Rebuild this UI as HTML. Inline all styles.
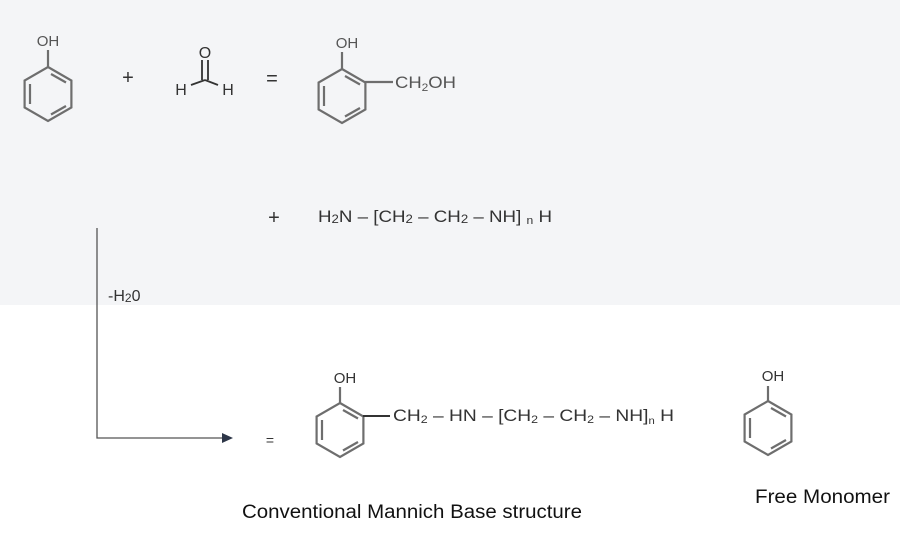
<!DOCTYPE html>
<html><head><meta charset="utf-8"><style>
body{margin:0;width:900px;height:550px;overflow:hidden;background:#fff}
svg{display:block}
text{font-family:"Liberation Sans",sans-serif}
</style></head><body>
<svg width="900" height="550" viewBox="0 0 900 550" xmlns="http://www.w3.org/2000/svg">
<rect x="0" y="0" width="900" height="305" fill="#f4f5f7"/>
<defs>
<g id="ring" fill="none" stroke="#6e6e6e" stroke-width="2.2">
<polygon points="0,-27 23.4,-13.5 23.4,13.5 0,27 -23.4,13.5 -23.4,-13.5"/>
<line x1="3" y1="-20" x2="18" y2="-11.5"/>
<line x1="18" y1="12" x2="3" y2="20.5"/>
<line x1="-18" y1="-10" x2="-18" y2="10"/>
</g>
</defs>
<use href="#ring" x="48" y="94"/>
<line x1="48" y1="67" x2="48" y2="50" stroke="#6e6e6e" stroke-width="2.2"/>
<text x="48" y="46" font-size="15" text-anchor="middle" fill="#555">OH</text>
<text x="128" y="84" font-size="20" text-anchor="middle" fill="#333">+</text>
<text x="205" y="58" font-size="16" text-anchor="middle" fill="#333">O</text>
<line x1="202" y1="60" x2="202" y2="80" stroke="#333" stroke-width="1.8"/>
<line x1="208" y1="60" x2="208" y2="80" stroke="#333" stroke-width="1.8"/>
<line x1="191" y1="85" x2="205" y2="80" stroke="#333" stroke-width="1.8"/>
<line x1="205" y1="80" x2="218" y2="85" stroke="#333" stroke-width="1.8"/>
<text x="181" y="95" font-size="16" text-anchor="middle" fill="#333">H</text>
<text x="228" y="95" font-size="16" text-anchor="middle" fill="#333">H</text>
<text x="272" y="85" font-size="20" text-anchor="middle" fill="#333">=</text>
<use href="#ring" x="342" y="96"/>
<line x1="342" y1="69" x2="342" y2="52" stroke="#6e6e6e" stroke-width="2.2"/>
<line x1="365" y1="82" x2="393" y2="82" stroke="#6e6e6e" stroke-width="2.2"/>
<text x="347" y="48" font-size="15" text-anchor="middle" fill="#555">OH</text>
<text x="395" y="88" font-size="17" fill="#555" textLength="61" lengthAdjust="spacingAndGlyphs">CH<tspan font-size="11" dy="3">2</tspan><tspan dy="-3">OH</tspan></text>
<text x="274" y="224" font-size="20" text-anchor="middle" fill="#333">+</text>
<text x="318" y="222" font-size="17" fill="#333" textLength="234" lengthAdjust="spacingAndGlyphs">H<tspan font-size="12" dy="1">2</tspan><tspan dy="-1">N – [CH</tspan><tspan font-size="12" dy="1">2</tspan><tspan dy="-1"> – CH</tspan><tspan font-size="12" dy="1">2</tspan><tspan dy="-1"> – NH] </tspan><tspan font-size="11" dy="2">n</tspan><tspan dy="-2"> H</tspan></text>
<polyline points="97,228 97,438 224,438" fill="none" stroke="#555" stroke-width="1.3"/>
<polygon points="233,438 222,433 222,443" fill="#2d3648"/>
<text x="108" y="301" font-size="16" fill="#333">-H<tspan font-size="12" dy="1">2</tspan><tspan dy="-1">0</tspan></text>
<text x="270" y="445" font-size="14" text-anchor="middle" fill="#333">=</text>
<use href="#ring" x="340" y="430"/>
<line x1="340" y1="403" x2="340" y2="387" stroke="#6e6e6e" stroke-width="2.2"/>
<line x1="363" y1="416" x2="390" y2="416" stroke="#333" stroke-width="2"/>
<text x="345" y="383" font-size="15" text-anchor="middle" fill="#333">OH</text>
<text x="393" y="421" font-size="17" fill="#333" textLength="281" lengthAdjust="spacingAndGlyphs">CH<tspan font-size="11" dy="2">2</tspan><tspan dy="-2"> – HN – [CH</tspan><tspan font-size="11" dy="2">2</tspan><tspan dy="-2"> – CH</tspan><tspan font-size="11" dy="2">2</tspan><tspan dy="-2"> – NH]</tspan><tspan font-size="10" dy="3">n</tspan><tspan dy="-3"> H</tspan></text>
<use href="#ring" x="768" y="428"/>
<line x1="768" y1="401" x2="768" y2="386" stroke="#6e6e6e" stroke-width="2.2"/>
<text x="773" y="381" font-size="15" text-anchor="middle" fill="#333">OH</text>
<text x="755" y="503" font-size="19" fill="#111" textLength="135" lengthAdjust="spacingAndGlyphs">Free Monomer</text>
<text x="242" y="518" font-size="19" fill="#111" textLength="340" lengthAdjust="spacingAndGlyphs">Conventional Mannich Base structure</text>
</svg>
</body></html>
